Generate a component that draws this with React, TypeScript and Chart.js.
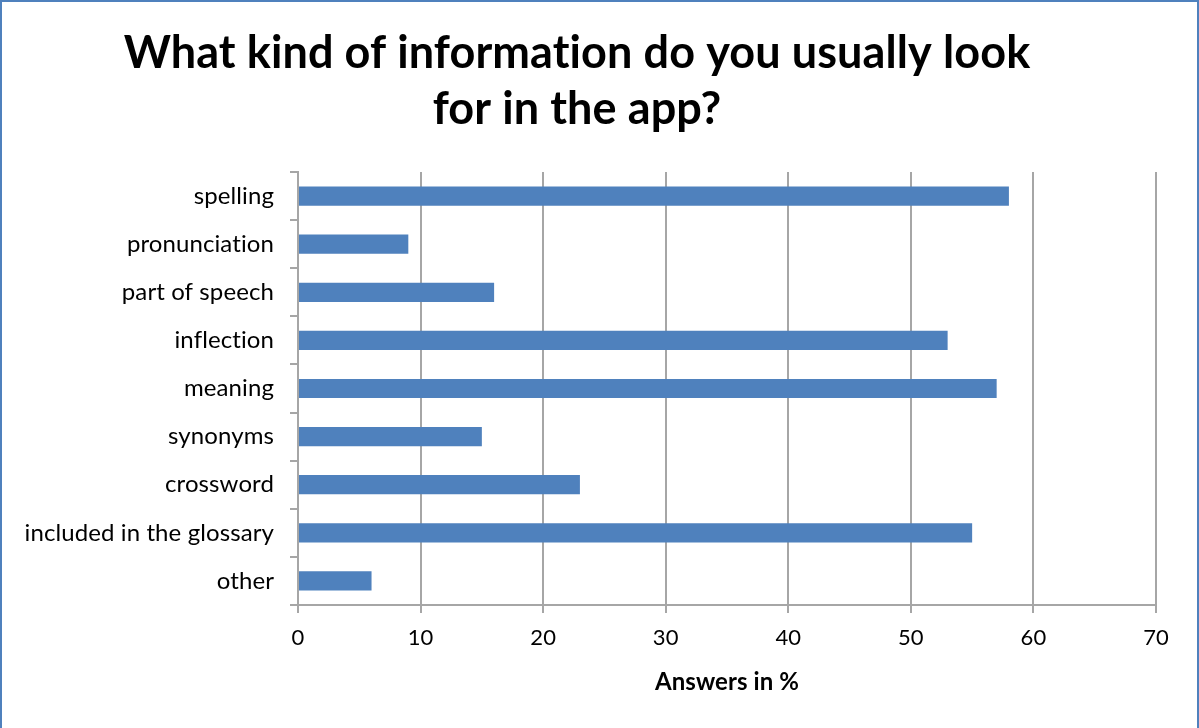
import React, { useEffect, useRef } from "react";
import { Chart, registerables } from "chart.js";

Chart.register(...registerables);

const titleLines = ["What kind of information do you usually look", "for in the app?"];
const categories = [
  "spelling",
  "pronunciation",
  "part of speech",
  "inflection",
  "meaning",
  "synonyms",
  "crossword",
  "included in the glossary",
  "other",
];
const values = [58, 9, 16, 53, 57, 15, 23, 55, 6];
const xTitle = "Answers in %";

const FONT = "Lato";
const GRID = "#A6A6A6";

export default function App() {
  const ref = useRef<HTMLCanvasElement | null>(null);

  useEffect(() => {
    if (!ref.current) return;
    document.body.style.margin = "0";
    const titlePlugin = {
      id: "customTitle",
      beforeDraw(chart: any) {
        const ctx = chart.ctx as any;
        ctx.letterSpacing = "0.1px";
      },
      afterDraw(chart: any) {
        const ctx = chart.ctx as any;
        ctx.save();
        ctx.letterSpacing = "0.1px";
        ctx.fillStyle = "#000";
        ctx.font = `bold 45px ${FONT}`;
        ctx.textAlign = "center";
        ctx.textBaseline = "alphabetic";
        ctx.fillText(titleLines[0], 577, 68);
        ctx.fillText(titleLines[1], 577, 124);
        ctx.restore();
      },
    };
    const chart = new Chart(ref.current, {
      type: "bar",
      data: {
        labels: categories,
        datasets: [
          {
            data: values,
            backgroundColor: "#4F81BD",
            borderWidth: 0,
            barPercentage: 0.4,
            categoryPercentage: 1,
          },
        ],
      },
      options: {
        indexAxis: "y",
        responsive: false,
        animation: false,
        layout: { padding: { left: 0, right: 43, top: 172, bottom: 0 } },
        plugins: { legend: { display: false }, tooltip: { enabled: false }, title: { display: false } },
        scales: {
          x: {
            min: 0,
            max: 70,
            ticks: { stepSize: 10, color: "#000", font: { family: FONT, size: 22 }, padding: 12 },
            grid: { color: GRID, lineWidth: 2, tickLength: 8 },
            border: { color: GRID, width: 2 },
            title: {
              display: true,
              text: xTitle,
              color: "#000",
              font: { family: FONT, size: 24, weight: "bold" },
              padding: { top: 31, bottom: 31 },
            },
            afterFit: (s: any) => {
              s.height = 123;
            },
          },
          y: {
            ticks: { color: "#000", font: { family: FONT, size: 24 }, padding: 16 },
            grid: { drawOnChartArea: false, drawTicks: true, tickLength: 8, offset: true, color: GRID, lineWidth: 2 },
            border: { color: GRID, width: 2 },
            afterFit: (s: any) => {
              s.width = 298;
            },
          },
        },
      },
      plugins: [titlePlugin],
    } as any);
    return () => chart.destroy();
  }, []);

  return (
    <div style={{ position: "absolute", left: 0, top: 0, width: 1199, height: 728, background: "#fff" }}>
      <canvas ref={ref} width={1199} height={728} style={{ position: "absolute", left: 0, top: 0 }} />
      <div
        style={{
          position: "absolute",
          left: 0,
          top: 0,
          width: 1199,
          height: 728,
          boxSizing: "border-box",
          borderLeft: "2px solid #4F81BD",
          borderTop: "2px solid #4F81BD",
          borderRight: "2px solid #4F81BD",
          pointerEvents: "none",
        }}
      />
    </div>
  );
}
